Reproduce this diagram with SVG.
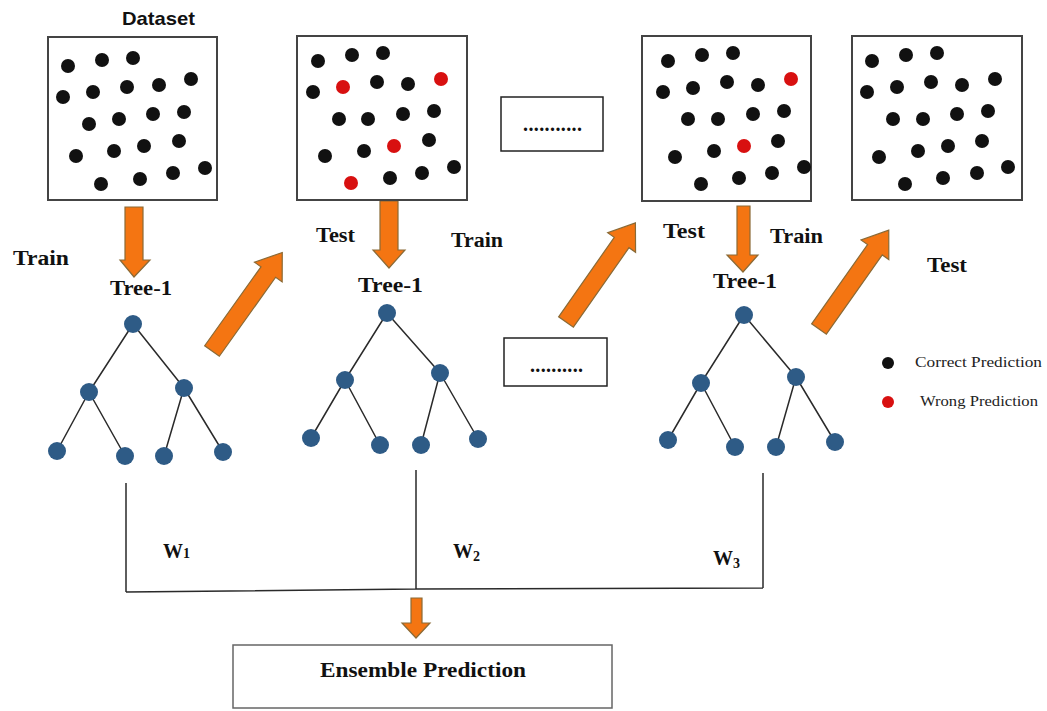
<svg xmlns="http://www.w3.org/2000/svg" xmlns:xlink="http://www.w3.org/1999/xlink" width="1047" height="711" viewBox="0 0 1047 711">
<style>
.box{fill:#fff;stroke:#444;stroke-width:2}
.dbox{fill:#fff;stroke:#222;stroke-width:1.5}
.d{fill:#111}
.r{fill:#d81010}
.tn{fill:#2e5b86}
.edge{stroke:#2a2a2a;stroke-width:1.5;fill:none}
.arr{fill:#f47512;stroke:#8a6a36;stroke-width:1.2}
.lbl{font-family:"Liberation Serif","Times New Roman",serif;font-weight:bold;font-size:20px;fill:#111}
.leg{font-family:"Liberation Serif","Times New Roman",serif;font-size:15px;fill:#222}
.ds{font-family:"Liberation Sans",Arial,sans-serif;font-weight:bold;font-size:19px;fill:#111}
</style>
<defs>
<polygon id="diag" class="arr" points="0,-9 97,-9 97,-17 121,0 97,17 97,9 0,9"/>
</defs>
<rect width="1047" height="711" fill="#fff"/>

<g id="connectors">
  <polygon class="arr" points="125,207 143,207 143,260 150,260 134,277 120,260 125,260"/>
  <polygon class="arr" points="380,201 398,201 398,250 405,250 389,268 373,250 380,250"/>
  <polygon class="arr" points="737,206 750,206 750,255 758,255 743,272 727,255 737,255"/>
  <polygon class="arr" points="411,598 422,598 422,623 430,623 416,638 402,623 411,623"/>
  <use xlink:href="#diag" href="#diag" transform="translate(212,351) rotate(-54.5)"/>
  <use xlink:href="#diag" href="#diag" transform="translate(566,322) rotate(-55)"/>
  <use xlink:href="#diag" href="#diag" transform="translate(819,329) rotate(-54.8)"/>
  <path class="edge" d="M133,324 L89,392 M133,324 L184,388 M89,392 L57,451 M89,392 L125,456 M184,388 L164,456 M184,388 L223,452"/>
  <path class="edge" d="M387,313 L345,380 M387,313 L440,373 M345,380 L311,438 M345,380 L380,445 M440,373 L421,445 M440,373 L478,439"/>
  <path class="edge" d="M744,315 L701,383 M744,315 L796,377 M701,383 L668,440 M701,383 L735,447 M796,377 L776,447 M796,377 L835,442"/>
  <path class="edge" d="M126,483 L126,592 M416,470 L416,589 M763,473 L763,588 M126,592 L416,589 L763,588"/>
</g>

<g id="dataset">
  <text class="ds" x="122" y="25" textLength="73" lengthAdjust="spacingAndGlyphs">Dataset</text>
  <rect class="box" x="48" y="37" width="169" height="163"/>
  <g class="d">
    <circle cx="68" cy="66" r="7"/><circle cx="102" cy="60" r="7"/><circle cx="133" cy="58" r="7"/>
    <circle cx="63" cy="97" r="7"/><circle cx="93" cy="92" r="7"/><circle cx="127" cy="87" r="7"/><circle cx="159" cy="85" r="7"/><circle cx="191" cy="79" r="7"/>
    <circle cx="89" cy="124" r="7"/><circle cx="119" cy="119" r="7"/><circle cx="153" cy="114" r="7"/><circle cx="184" cy="112" r="7"/>
    <circle cx="76" cy="156" r="7"/><circle cx="114" cy="151" r="7"/><circle cx="144" cy="146" r="7"/><circle cx="179" cy="141" r="7"/>
    <circle cx="205" cy="168" r="7"/><circle cx="173" cy="173" r="7"/><circle cx="140" cy="179" r="7"/><circle cx="101" cy="184" r="7"/>
  </g>
</g>

<g id="test-set-1">
  <rect class="box" x="297" y="36" width="170" height="164"/>
  <g class="d">
    <circle cx="318" cy="61" r="7"/><circle cx="352" cy="55" r="7"/><circle cx="383" cy="53" r="7"/>
    <circle cx="313" cy="92" r="7"/><circle cx="377" cy="82" r="7"/><circle cx="408" cy="84" r="7"/>
    <circle cx="339" cy="119" r="7"/><circle cx="368" cy="119" r="7"/><circle cx="403" cy="114" r="7"/><circle cx="434" cy="111" r="7"/>
    <circle cx="325" cy="156" r="7"/><circle cx="364" cy="151" r="7"/><circle cx="429" cy="140" r="7"/>
    <circle cx="454" cy="167" r="7"/><circle cx="422" cy="173" r="7"/><circle cx="390" cy="178" r="7"/>
  </g>
  <g class="r">
    <circle cx="343" cy="87" r="7"/><circle cx="441" cy="79" r="7"/><circle cx="394" cy="146" r="7"/><circle cx="351" cy="183" r="7"/>
  </g>
</g>

<g id="ellipsis-top">
  <rect class="dbox" x="501" y="97" width="102" height="54"/>
  <text class="lbl" x="523" y="131" font-size="14" textLength="59" lengthAdjust="spacing">...........</text>
</g>

<g id="test-set-2">
  <rect class="box" x="642" y="36" width="169" height="165"/>
  <g class="d">
    <circle cx="668" cy="61" r="7"/><circle cx="702" cy="55" r="7"/><circle cx="733" cy="53" r="7"/>
    <circle cx="663" cy="92" r="7"/><circle cx="693" cy="88" r="7"/><circle cx="727" cy="82" r="7"/><circle cx="758" cy="85" r="7"/>
    <circle cx="688" cy="119" r="7"/><circle cx="718" cy="119" r="7"/><circle cx="753" cy="114" r="7"/><circle cx="784" cy="111" r="7"/>
    <circle cx="675" cy="157" r="7"/><circle cx="714" cy="151" r="7"/><circle cx="778" cy="141" r="7"/>
    <circle cx="804" cy="167" r="7"/><circle cx="772" cy="173" r="7"/><circle cx="739" cy="178" r="7"/><circle cx="701" cy="184" r="7"/>
  </g>
  <g class="r">
    <circle cx="791" cy="79" r="7"/><circle cx="744" cy="146" r="7"/>
  </g>
</g>

<g id="test-set-3">
  <rect class="box" x="852" y="36" width="170" height="164"/>
  <g class="d">
    <circle cx="872" cy="61" r="7"/><circle cx="906" cy="55" r="7"/><circle cx="937" cy="53" r="7"/>
    <circle cx="867" cy="92" r="7"/><circle cx="897" cy="87" r="7"/><circle cx="931" cy="82" r="7"/><circle cx="962" cy="85" r="7"/><circle cx="995" cy="79" r="7"/>
    <circle cx="893" cy="119" r="7"/><circle cx="923" cy="119" r="7"/><circle cx="957" cy="114" r="7"/><circle cx="988" cy="111" r="7"/>
    <circle cx="879" cy="157" r="7"/><circle cx="918" cy="151" r="7"/><circle cx="948" cy="146" r="7"/><circle cx="982" cy="141" r="7"/>
    <circle cx="1008" cy="167" r="7"/><circle cx="977" cy="173" r="7"/><circle cx="943" cy="178" r="7"/><circle cx="905" cy="184" r="7"/>
  </g>
</g>

<g id="labels">
  <text class="lbl" x="13" y="265" textLength="56" lengthAdjust="spacingAndGlyphs">Train</text>
  <text class="lbl" x="316" y="242" textLength="39" lengthAdjust="spacingAndGlyphs">Test</text>
  <text class="lbl" x="451" y="247" textLength="52" lengthAdjust="spacingAndGlyphs">Train</text>
  <text class="lbl" x="663" y="238" textLength="42" lengthAdjust="spacingAndGlyphs">Test</text>
  <text class="lbl" x="770" y="243" textLength="53" lengthAdjust="spacingAndGlyphs">Train</text>
  <text class="lbl" x="927" y="272" textLength="40" lengthAdjust="spacingAndGlyphs">Test</text>
</g>

<g id="tree-1">
  <text class="lbl" x="110" y="295" textLength="62" lengthAdjust="spacingAndGlyphs">Tree-1</text>
  <g class="tn">
    <circle cx="133" cy="324" r="9"/><circle cx="89" cy="392" r="9"/><circle cx="184" cy="388" r="9"/>
    <circle cx="57" cy="451" r="9"/><circle cx="125" cy="456" r="9"/><circle cx="164" cy="456" r="9"/><circle cx="223" cy="452" r="9"/>
  </g>
</g>

<g id="tree-2">
  <text class="lbl" x="358" y="292" textLength="65" lengthAdjust="spacingAndGlyphs">Tree-1</text>
  <g class="tn">
    <circle cx="387" cy="313" r="9"/><circle cx="345" cy="380" r="9"/><circle cx="440" cy="373" r="9"/>
    <circle cx="311" cy="438" r="9"/><circle cx="380" cy="445" r="9"/><circle cx="421" cy="445" r="9"/><circle cx="478" cy="439" r="9"/>
  </g>
</g>

<g id="ellipsis-bottom">
  <rect class="dbox" x="504" y="338" width="103" height="48"/>
  <text class="lbl" x="530" y="372" font-size="14" textLength="53" lengthAdjust="spacing">..........</text>
</g>

<g id="tree-3">
  <text class="lbl" x="713" y="288" textLength="64" lengthAdjust="spacingAndGlyphs">Tree-1</text>
  <g class="tn">
    <circle cx="744" cy="315" r="9"/><circle cx="701" cy="383" r="9"/><circle cx="796" cy="377" r="9"/>
    <circle cx="668" cy="440" r="9"/><circle cx="735" cy="447" r="9"/><circle cx="776" cy="447" r="9"/><circle cx="835" cy="442" r="9"/>
  </g>
</g>

<g id="legend">
  <circle cx="888" cy="363" r="6" fill="#111"/>
  <text class="leg" x="915" y="367" textLength="127" lengthAdjust="spacingAndGlyphs">Correct Prediction</text>
  <circle cx="888" cy="402" r="6" fill="#d81010"/>
  <text class="leg" x="920" y="406" textLength="118" lengthAdjust="spacingAndGlyphs">Wrong Prediction</text>
</g>

<g id="weights">
  <text class="lbl" x="163" y="558" font-size="19">W<tspan font-size="14">1</tspan></text>
  <text class="lbl" x="453" y="558" font-size="19">W<tspan font-size="14" dy="3">2</tspan></text>
  <text class="lbl" x="713" y="565" font-size="19">W<tspan font-size="14" dy="3">3</tspan></text>
</g>

<g id="ensemble">
  <rect x="233" y="645" width="379" height="63" fill="#fff" stroke="#666" stroke-width="1.5"/>
  <text class="lbl" x="320" y="677" textLength="206" lengthAdjust="spacingAndGlyphs">Ensemble Prediction</text>
</g>
</svg>
